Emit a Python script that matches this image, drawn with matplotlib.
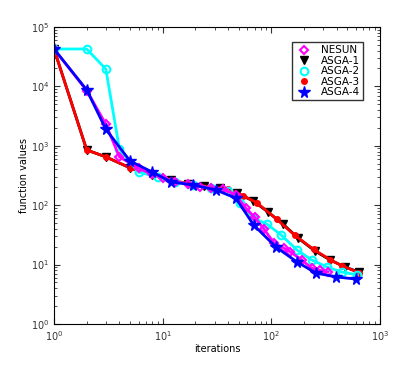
import numpy as np
import matplotlib
matplotlib.use('Agg')
import matplotlib.pyplot as plt

# NESUN
nesun_x = [1, 2, 3, 4, 6, 8, 10, 13, 17, 22, 28, 36, 47, 58, 70, 85, 106, 130, 150, 190, 235, 280, 330]
nesun_y = [42600, 8500, 2300, 650, 420, 330, 290, 250, 225, 205, 195, 185, 150, 90, 63, 40, 23, 19, 16.3, 12, 8.7, 8, 7.5]
# ASGA-1
asga1_x = [1, 2, 3, 5, 8, 12, 17, 24, 34, 48, 68, 93, 128, 176, 251, 346, 475, 640]
asga1_y = [42600, 850, 650, 425, 322, 265, 228, 210, 195, 160, 118, 77, 48, 28, 17, 12, 9.1, 7.5]
# ASGA-2
asga2_x = [1, 2, 3, 4, 6, 9, 13, 19, 28, 40, 52, 68, 91, 123, 172, 235, 325, 445, 620]
asga2_y = [42600, 42600, 19500, 880, 360, 300, 250, 215, 195, 175, 110, 61, 48, 31.6, 17.6, 12, 9.1, 7.5, 6.7]
# ASGA-3
asga3_x = [1, 2, 3, 5, 8, 12, 18, 27, 40, 55, 74, 112, 165, 245, 350, 450, 640]
asga3_y = [42600, 850, 650, 425, 322, 265, 225, 205, 185, 145, 109, 58, 31, 18, 12, 9.5, 7.3]
# ASGA-4
asga4_x = [1, 2, 3, 5, 8, 12, 19, 31, 47, 69, 110, 172, 257, 393, 600]
asga4_y = [42600, 8700, 1900, 555, 362, 246, 219, 180, 132, 46, 19.8, 11.1, 7.2, 6.2, 5.7]

fig = plt.figure(figsize=(4.2, 3.66), dpi=100)
ax = fig.add_axes([0.1286, 0.1148, 0.7762, 0.8115])

ax.plot(asga1_x, asga1_y, color='k', lw=2, marker='v', ms=5.5, mfc='k', mec='k', label='ASGA-1')
ax.plot(asga3_x, asga3_y, color='r', lw=2, marker='o', ms=4, mfc='r', mec='r', label='ASGA-3')
ax.plot(asga2_x, asga2_y, color='cyan', lw=2, marker='o', ms=5.5, mfc='none', mec='cyan', mew=1.5, label='ASGA-2')
ax.plot(nesun_x, nesun_y, color='magenta', lw=2, marker='D', ms=4.5, mfc='none', mec='magenta', mew=1.5, label='NESUN')
ax.plot(asga4_x, asga4_y, color='b', lw=2, marker='*', ms=8.5, mfc='b', mec='b', label='ASGA-4')

ax.set_xscale('log')
ax.set_yscale('log')
ax.set_xlim(1, 1000)
ax.set_ylim(1, 1e5)
ax.tick_params(which='both', direction='in', top=True, right=True, labelsize=7, colors='#333333')
ax.tick_params(which='major', length=4)
ax.tick_params(which='minor', length=2)
ax.set_xlabel('iterations', fontsize=7, labelpad=1)
ax.set_ylabel('function values', fontsize=7, labelpad=1)

handles, labels = ax.get_legend_handles_labels()
order = [labels.index(n) for n in ['NESUN', 'ASGA-1', 'ASGA-2', 'ASGA-3', 'ASGA-4']]
leg = ax.legend([handles[i] for i in order], [labels[i] for i in order],
                loc='upper right', bbox_to_anchor=(0.948, 0.949), borderaxespad=0,
                fontsize=7.5, numpoints=1, fancybox=False, handlelength=1.8,
                labelspacing=0.05, borderpad=0.3, handletextpad=0.7)
leg.get_frame().set_edgecolor('k')
for line in leg.get_lines():
    line.set_linestyle('none')

fig.savefig('out.png', dpi=100)
